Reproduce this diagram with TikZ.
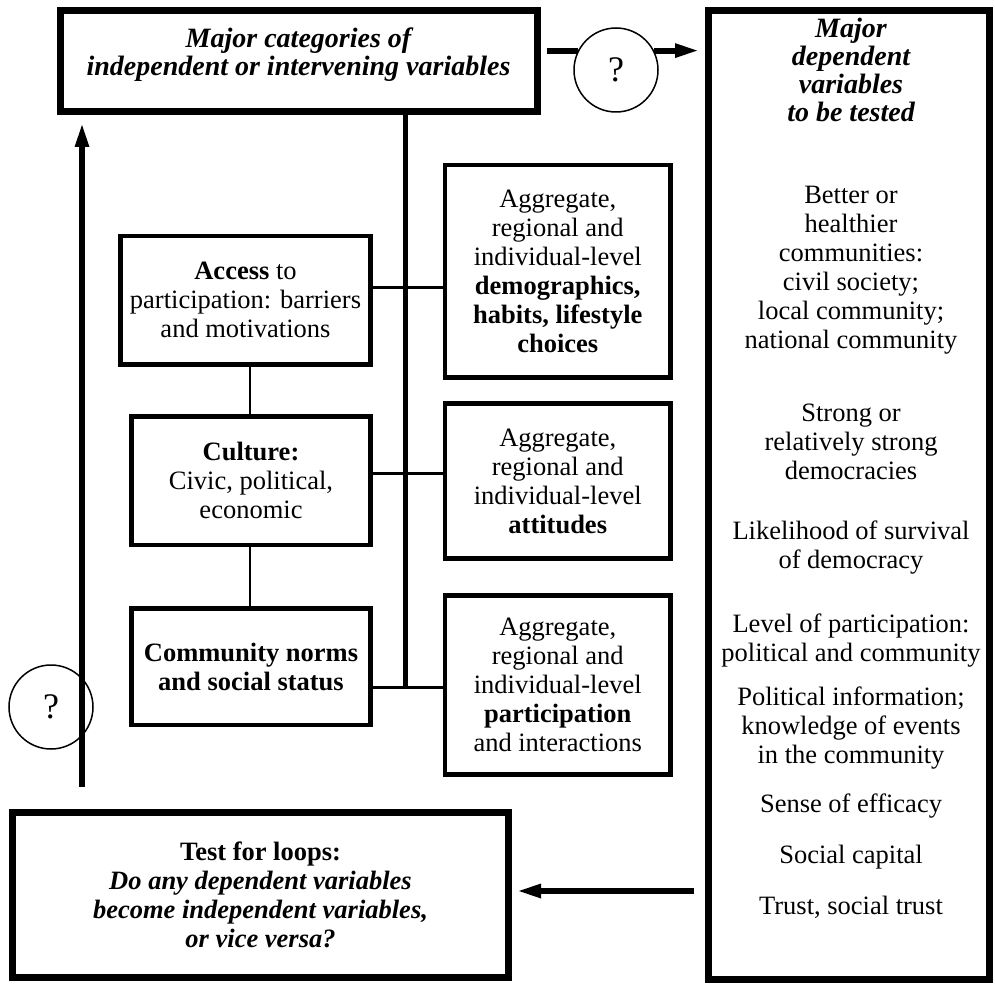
\documentclass[tikz,border=0pt]{standalone}
\usepackage{fontspec}
\setmainfont{Liberation Serif}
\usetikzlibrary{arrows.meta,calc}
\newcommand\diagbody{\fontsize{26.5pt}{29pt}\selectfont}
\newcommand\diagtitle{\fontsize{28pt}{28pt}\selectfont}
\newcommand\diagq{\fontsize{36pt}{36pt}\selectfont}
\begin{document}
\begin{tikzpicture}[x=1pt,y=-1pt,
  heavybox/.style={draw, line width=7pt, inner sep=0pt, align=center},
  framebox/.style={draw, line width=4.5pt, inner sep=0pt, align=center, font=\diagbody},
  qcircle/.style={draw, circle, line width=1.5pt, minimum size=84pt, inner sep=0pt, font=\diagq},
  txt/.style={align=center, inner sep=0pt, font=\diagbody},
  ttl/.style={align=center, inner sep=0pt, font=\diagtitle\bfseries\itshape},
  link/.style={line width=3pt},
  thinv/.style={line width=2.5pt},
  spine/.style={line width=5pt},
  heavyline/.style={line width=6pt},
  heavyarrow/.style={line width=6pt, -{Triangle[length=22pt,width=15pt,line width=0pt]}},
]
\useasboundingbox (0,0) rectangle (995,987);

% helper rows and columns
\coordinate (rowA) at (0,287);
\coordinate (rowB) at (0,473);
\coordinate (rowC) at (0,687);
\coordinate (rowL) at (0,891);
\coordinate (spinex) at (405.5,0);
\coordinate (colx) at (250,0);
\coordinate (loopfoot) at (82,787);

% main boxes
\node[heavybox, minimum width=477pt, minimum height=101pt] (major) at (298.5,61) {};
\node[ttl] (majortext) at (298.5,55) {Major categories of\\independent or intervening variables};
\node[heavybox, minimum width=280.5pt, minimum height=968.5pt] (dep) at (848.75,494.75) {};
\node[heavybox, minimum width=496pt, minimum height=165pt, font=\diagbody]
  (loops) at (260.5,895) {\textbf{Test for loops:}\\\textbf{\textit{Do any dependent variables}}\\\textbf{\textit{become independent variables,}}\\\textbf{\textit{or vice versa?}}};

% dependent variables list
\node[ttl] (dtitle) at (851,70) {Major\\dependent\\variables\\to be tested};
\node[txt] (dg1) at (851,270) {Better or\\healthier\\communities:\\civil society;\\local community;\\national community};
\node[txt] (dg2) at (851,442) {Strong or\\relatively strong\\democracies};
\node[txt] (dg3) at (851,548) {Likelihood of survival\\of democracy};
\node[txt] (dg4) at (851,641) {Level of participation:\\political and community};
\node[txt] (dg5) at (851,728) {Political information;\\knowledge of events\\in the community};
\node[txt] (dg6) at (851,806) {Sense of efficacy};
\node[txt] (dg7) at (851,857) {Social capital};
\node[txt] (dg8) at (851,907) {Trust, social trust};

% left column
\node[framebox, minimum width=250pt, minimum height=128.5pt] (access) at (245.5,300.25)
  {\textbf{Access} to\\participation: barriers\\and motivations};
\node[framebox, minimum width=239pt, minimum height=128.5pt] (culture) at (251,480.75)
  {\textbf{Culture:}\\Civic, political,\\economic};
\node[framebox, minimum width=239pt, minimum height=116.5pt] (community) at (251,666.75)
  {\textbf{Community norms}\\\textbf{and social status}};

% middle column
\node[framebox, minimum width=225.5pt, minimum height=212.5pt] (demo) at (557.75,271.25)
  {Aggregate,\\regional and\\individual-level\\\textbf{demographics,}\\\textbf{habits, lifestyle}\\\textbf{choices}};
\node[framebox, minimum width=225.5pt, minimum height=155pt] (att) at (557.75,481)
  {Aggregate,\\regional and\\individual-level\\\textbf{attitudes}};
\node[framebox, minimum width=225.5pt, minimum height=179pt] (part) at (557.75,685)
  {Aggregate,\\regional and\\individual-level\\\textbf{participation}\\and interactions};

% connectors
\draw[spine] (major.south -| spinex) -- ([yshift=-1.5pt]spinex |- rowC);
\draw[link] (access.east |- rowA) -- (demo.west |- rowA);
\draw[link] (culture.east |- rowB) -- (att.west |- rowB);
\draw[link] (community.east |- rowC) -- (part.west |- rowC);
\draw[thinv] (access.south -| colx) -- (culture.north -| colx);
\draw[thinv] (culture.south -| colx) -- (community.north -| colx);

% question marks and arrows
\node[qcircle] (fwdq) at (616,70) {?};
\draw[heavyline] ([xshift=6pt]major.east |- fwdq.153) -- (fwdq.153);
\draw[heavyarrow] (fwdq.27) -- ([xshift=-8pt]dep.west |- fwdq.27);

\node[qcircle] (backq) at (51,707) {?};
\draw[heavyarrow] (loopfoot) -- ([yshift=-10pt]major.south -| loopfoot);

\draw[heavyarrow] ([xshift=-11pt]dep.west |- rowL) -- ([xshift=7pt]loops.east |- rowL);
\end{tikzpicture}
\end{document}
